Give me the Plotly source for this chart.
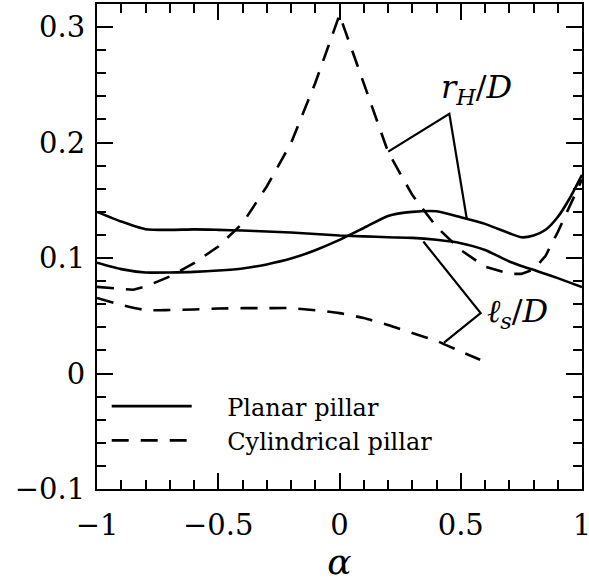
import plotly.graph_objects as go

# ---- data ----
alpha_planar = [-1.0, -0.9, -0.8, -0.7, -0.6, -0.5, -0.4, -0.3, -0.2, -0.1, 0.0,
                0.1, 0.2, 0.3, 0.4, 0.5, 0.6, 0.7, 0.75, 0.8, 0.85, 0.9, 0.95, 1.0]
planar_rH = [0.096, 0.0904, 0.0875, 0.0875, 0.088, 0.0892, 0.091, 0.0945, 0.0995, 0.1068, 0.1157,
             0.126, 0.1365, 0.140, 0.1405, 0.1354, 0.1296, 0.1215, 0.118, 0.1195, 0.1245, 0.1355, 0.152, 0.172]
planar_ls = [0.140, 0.1316, 0.1250, 0.1244, 0.1248, 0.1244, 0.1238, 0.123, 0.1221, 0.1208, 0.1195,
             0.1188, 0.118, 0.1175, 0.1158, 0.1129, 0.107, 0.097, 0.0932, 0.0898, 0.0862, 0.0826, 0.0787, 0.0748]

alpha_cyl_rH = [-1.0, -0.9, -0.85, -0.8, -0.7, -0.6, -0.5, -0.4, -0.3, -0.2, -0.1, -0.05, 0.0,
                0.05, 0.1, 0.2, 0.3, 0.4, 0.5, 0.6, 0.7, 0.75, 0.8, 0.85, 0.9, 0.95, 1.0]
cyl_rH = [0.075, 0.073, 0.0725, 0.0753, 0.084, 0.0956, 0.110, 0.130, 0.162, 0.1995, 0.2516, 0.281, 0.3106,
          0.281, 0.251, 0.192, 0.1547, 0.127, 0.107, 0.0926, 0.0863, 0.0863, 0.090, 0.102, 0.1225, 0.146, 0.168]

alpha_cyl_ls = [-1.0, -0.9, -0.8, -0.7, -0.6, -0.5, -0.4, -0.3, -0.2, -0.1, 0.0,
                0.1, 0.2, 0.3, 0.4, 0.5, 0.58]
cyl_ls = [0.0655, 0.0595, 0.055, 0.055, 0.0555, 0.0563, 0.0566, 0.0566, 0.0566, 0.0548, 0.0523,
          0.048, 0.042, 0.035, 0.0283, 0.019, 0.0119]

# label pointer lines (data coordinates)
rH_pointer_x = [0.201, 0.453, 0.5245]
rH_pointer_y = [0.1922, 0.2249, 0.1345]
ls_pointer_x = [0.3457, 0.582, 0.431]
ls_pointer_y = [0.1143, 0.0523, 0.0268]

legend_names = ["Planar pillar", "Cylindrical pillar"]
x_ticks = [-1, -0.5, 0, 0.5, 1]
x_tick_text = ["\u22121", "\u22120.5", "0", "0.5", "1"]
y_ticks = [-0.1, 0, 0.1, 0.2, 0.3]
y_tick_text = ["\u22120.1", "0", "0.1", "0.2", "0.3"]

FONT = "DejaVu Serif"
LW = 2.6
DASH = "17px,12px"
GAP = "\u00a0" * 4

fig = go.Figure()
fig.add_trace(go.Scatter(x=alpha_planar, y=planar_rH, mode="lines", line=dict(color="black", width=LW, shape="spline", smoothing=0.6),
                         name=GAP + legend_names[0], showlegend=True))
fig.add_trace(go.Scatter(x=alpha_planar, y=planar_ls, mode="lines", line=dict(color="black", width=LW, shape="spline", smoothing=0.6),
                         showlegend=False))
fig.add_trace(go.Scatter(x=alpha_cyl_rH, y=cyl_rH, mode="lines", line=dict(color="black", width=LW, dash=DASH),
                         name=GAP + legend_names[1], showlegend=True))
fig.add_trace(go.Scatter(x=alpha_cyl_ls, y=cyl_ls, mode="lines", line=dict(color="black", width=LW, dash=DASH, shape="spline", smoothing=0.6),
                         showlegend=False))
fig.add_trace(go.Scatter(x=rH_pointer_x, y=rH_pointer_y, mode="lines", line=dict(color="black", width=2.2), showlegend=False))
fig.add_trace(go.Scatter(x=ls_pointer_x, y=ls_pointer_y, mode="lines", line=dict(color="black", width=2.2), showlegend=False))

fig.add_annotation(x=0.41, y=0.246, xref="x", yref="y", text="<i>r</i><sub><i>H</i></sub>/<i>D</i>",
                   showarrow=False, xanchor="left", yanchor="middle", font=dict(family=FONT, size=32, color="black"))
fig.add_annotation(x=0.600, y=0.0525, xref="x", yref="y", text="<i>\u2113</i><sub><i>s</i></sub>/<i>D</i>",
                   showarrow=False, xanchor="left", yanchor="middle", font=dict(family=FONT, size=32, color="black"))

axis_common = dict(showline=True, linecolor="black", linewidth=2, mirror="ticks", ticks="inside",
                   tickcolor="black", tickwidth=1.5, ticklen=16, showgrid=False, zeroline=False,
                   ticklabeloverflow="allow", automargin=False,
                   tickfont=dict(family=FONT, size=29, color="black"))
fig.update_xaxes(range=[-1, 1], tickvals=x_ticks, ticktext=x_tick_text,
                 minor=dict(dtick=0.1, tick0=0, ticks="inside", ticklen=9, tickwidth=1.5, tickcolor="black", showgrid=False),
                 ticklabelstandoff=9,
                 title=dict(text="<i>\u03b1</i>", font=dict(family=FONT, size=36, color="black"), standoff=0),
                 **axis_common)
fig.update_yaxes(range=[-0.1, 0.32], tickvals=y_ticks, ticktext=y_tick_text,
                 minor=dict(dtick=0.02, tick0=0, ticks="inside", ticklen=9, tickwidth=1.5, tickcolor="black", showgrid=False),
                 ticklabelstandoff=4,
                 **axis_common)

fig.update_layout(width=589, height=582, margin=dict(l=97, r=7, t=4, b=93, autoexpand=False),
                  plot_bgcolor="white", paper_bgcolor="white",
                  legend=dict(x=0.02, y=0.135, xanchor="left", yanchor="middle", bgcolor="rgba(0,0,0,0)",
                              font=dict(family=FONT, size=24, color="black"), itemwidth=80, tracegroupgap=0),
                  font=dict(family=FONT, color="black"))

fig.write_html("out.html")
